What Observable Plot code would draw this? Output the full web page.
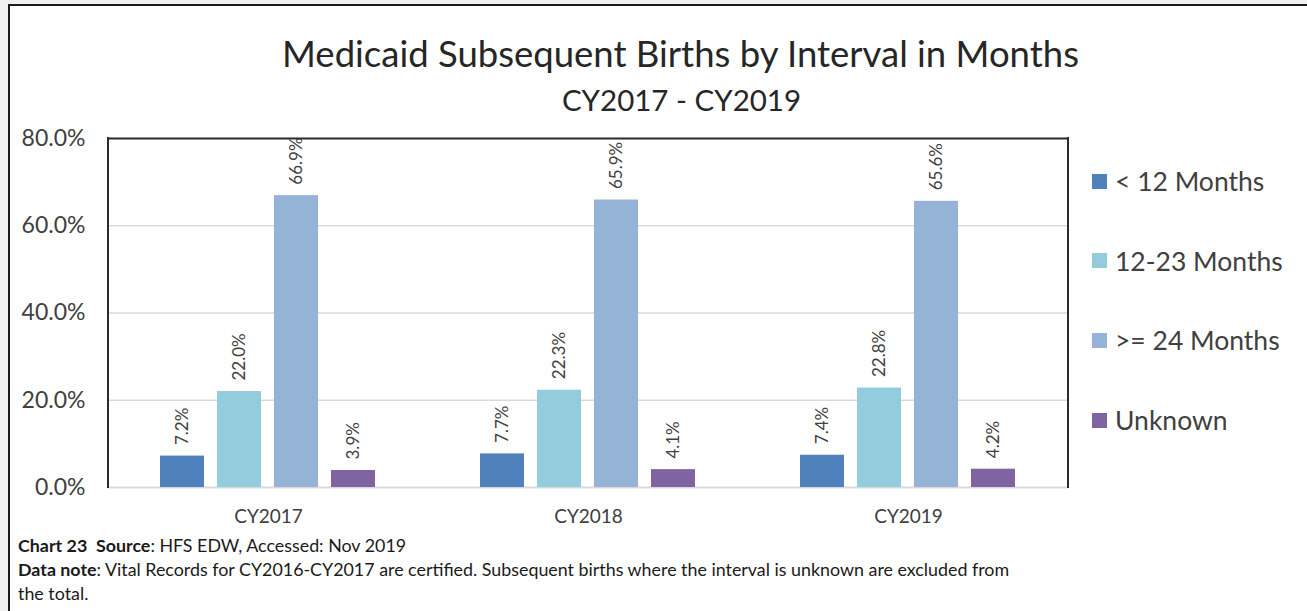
<!DOCTYPE html>
<html>
<head>
<meta charset="utf-8">
<script src="https://cdn.jsdelivr.net/npm/d3@7"></script>
<script src="https://cdn.jsdelivr.net/npm/@observablehq/plot@0.6"></script>
<style>
  html, body { margin: 0; padding: 0; }
  body { width: 1307px; height: 611px; background: #f0f0f0; overflow: hidden; position: relative; font-family: Lato, "Open Sans", sans-serif; color: #404040; }
  #frame { position: absolute; left: 8px; top: 4px; width: 1400px; height: 700px; background: #fff; border-left: 2px solid #1b1b1b; border-top: 2px solid #1b1b1b; }
  #title { position: absolute; left: 0; width: 1361px; top: 32px; text-align: center; font-size: 36.5px; line-height: 42px; color: #262626; }
  #subtitle { position: absolute; left: 0; width: 1363px; top: 83px; text-align: center; font-size: 29.5px; line-height: 34px; color: #262626; }
  #chart { position: absolute; left: 0; top: 120px; }
  #legend { position: absolute; left: 0; top: 0; }
  .lg-item { position: absolute; left: 1092px; display: flex; align-items: center; font-size: 26.5px; color: #404040; white-space: nowrap; }
  .lg-sw { width: 15px; height: 15px; margin-right: 8px; }
  #notes { position: absolute; left: 18px; top: 533px; font-size: 17.85px; line-height: 24px; color: #1a1a1a; }
  #chart svg [aria-label^="y-axis"] text { font-size: 23px; }
  #chart svg [aria-label^="fx-axis"] text { font-size: 19px; }
</style>
</head>
<body>
<div id="frame"></div>
<div id="title">Medicaid Subsequent Births by Interval in Months</div>
<div id="subtitle">CY2017 - CY2019</div>
<div id="chart"></div>
<div id="legend"></div>
<div id="notes">
  <div><b>Chart 23&nbsp; Source</b>: HFS EDW, Accessed: Nov 2019</div>
  <div><b>Data note</b>: Vital Records for CY2016-CY2017 are certified. Subsequent births where the interval is unknown are excluded from</div>
  <div>the total.</div>
</div>
<script>
const years = ["CY2017", "CY2018", "CY2019"];
const categories = ["< 12 Months", "12-23 Months", ">= 24 Months", "Unknown"];
const colors = ["#4f81bd", "#93cddd", "#95b3d7", "#8064a2"];
const lt12 = [0.072, 0.077, 0.074];
const m12to23 = [0.220, 0.223, 0.228];
const ge24 = [0.669, 0.659, 0.656];
const unknown = [0.039, 0.041, 0.042];
const yTicks = [0, 0.2, 0.4, 0.6, 0.8];

const series = [lt12, m12to23, ge24, unknown];
const rows = [];
years.forEach((yr, i) => categories.forEach((c, j) => rows.push({year: yr, cat: c, value: series[j][i]})));

const fmt = d3.format(".1%");

const plot = Plot.plot({
  width: 1307,
  height: 410,
  marginTop: 18,
  marginBottom: 43,
  marginLeft: 108,
  marginRight: 239,
  style: { fontFamily: "Lato, sans-serif", color: "#404040", background: "transparent", overflow: "visible" },
  facet: { data: rows, x: "year" },
  fx: { domain: years, padding: 0, axis: "bottom", tickSize: 0, tickPadding: 22, label: null },
  x: { domain: categories, paddingInner: 0.22, paddingOuter: 0.87, axis: null },
  y: { domain: [0, 0.8], ticks: yTicks, tickFormat: fmt, tickSize: 0, tickPadding: 23, label: null },
  color: { domain: categories, range: colors },
  marks: [
    Plot.ruleY([0.2, 0.4, 0.6], { stroke: "#d9d9d9", strokeWidth: 1.5 }),
    Plot.ruleY([0], { stroke: "#d9d9d9", strokeWidth: 2 }),
    Plot.barY(rows, { x: "cat", y: "value", fill: "cat" }),
    Plot.text(rows, { x: "cat", y: "value", text: d => fmt(d.value), rotate: -90, textAnchor: "start", lineAnchor: "middle", dy: -11, fontSize: 17, fill: "#404040" }),
    Plot.ruleY([0.8], { stroke: "#2b2b2b", strokeWidth: 2 })
  ]
});
document.getElementById("chart").appendChild(plot);

// plot-area side borders, placed with the plot's own scales
const fxR = plot.scale("fx").range;
const yS = plot.scale("y");
const svg = d3.select(plot);
[fxR[0], fxR[1]].forEach(xp => {
  svg.append("line")
    .attr("x1", xp).attr("x2", xp)
    .attr("y1", yS.apply(0.8) - 1).attr("y2", yS.apply(0) + 1)
    .attr("stroke", "#2b2b2b").attr("stroke-width", 2);
});

// legend
const lg = d3.select("#legend");
categories.forEach((c, i) => {
  const item = lg.append("div").attr("class", "lg-item").style("top", (165 + i * 79.7) + "px");
  item.append("div").attr("class", "lg-sw").style("background", colors[i]);
  item.append("span").text(c);
});
</script>
</body>
</html>
